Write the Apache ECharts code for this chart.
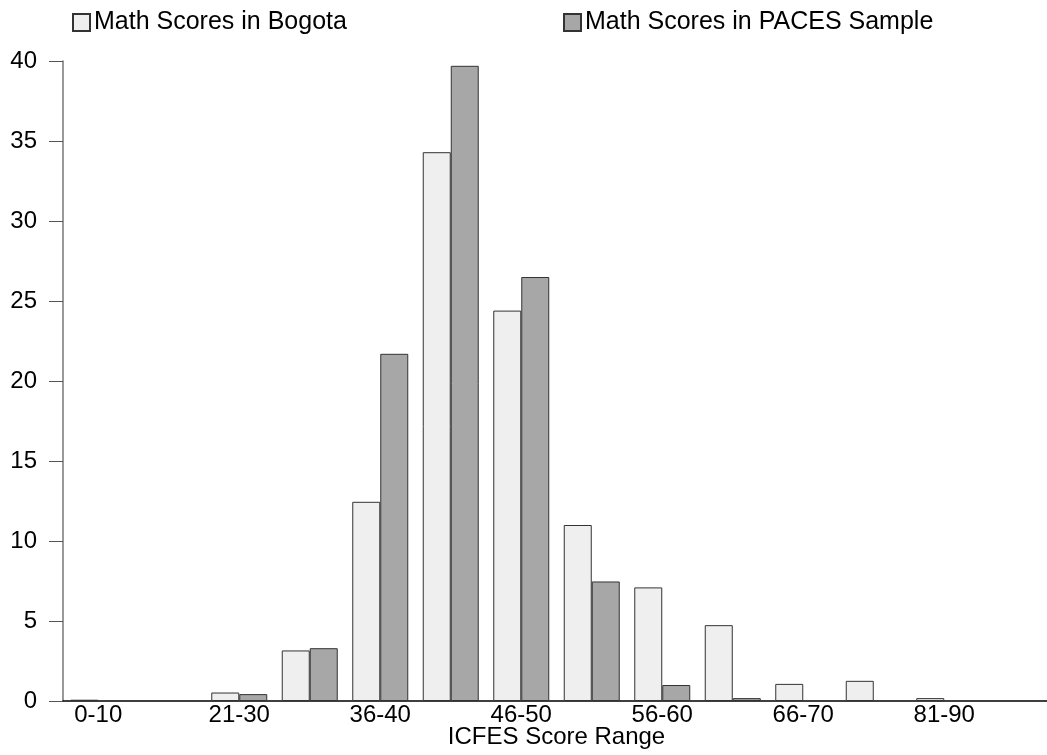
<!DOCTYPE html>
<html><head><meta charset="utf-8">
<script src="https://cdn.jsdelivr.net/npm/echarts@6/dist/echarts.min.js"></script>
<style>html,body{margin:0;padding:0;background:#fff}#c{width:1047px;height:755px}</style>
</head><body><div id="c"></div>
<script>
const categories = ['0-10','11-20','21-30','31-35','36-40','41-45','46-50','51-55','56-60','61-65','66-70','71-80','81-90','91-100'];
const bogota = [0.08, 0, 0.53, 3.16, 12.45, 34.3, 24.4, 11.0, 7.1, 4.74, 1.07, 1.26, 0.18, 0];
const paces  = [0, 0, 0.43, 3.3, 21.7, 39.7, 26.5, 7.47, 1.0, 0.18, 0, 0, 0, 0];
const yTicks = { min: 0, max: 40, interval: 5 };
const seriesNames = ['Math Scores in Bogota', 'Math Scores in PACES Sample'];

const font = "Arial, 'Liberation Sans', sans-serif";
const chart = echarts.init(document.getElementById('c'), null, {renderer: 'canvas'});
const nz = a => a.map(v => v === 0 ? null : v);
const legendCommon = { top: 10, padding: 0, itemWidth: 17, itemHeight: 17, itemGap: 5, icon: 'rect',
  textStyle: { fontSize: 25, color: '#000', fontFamily: font, padding: [0, 0, 0, -1] } };
chart.setOption({
  animation: false,
  backgroundColor: '#ffffff',
  textStyle: { fontFamily: font },
  legend: [
    Object.assign({ data: [seriesNames[0]], left: 72 }, legendCommon),
    Object.assign({ data: [seriesNames[1]], left: 563 }, legendCommon)
  ],
  grid: { left: 63, top: 61, bottom: 54, width: 987, containLabel: false, outerBoundsMode: 'none' },
  xAxis: {
    type: 'category', data: categories,
    name: 'ICFES Score Range', nameLocation: 'middle', nameGap: 24, nameMoveOverlap: false,
    nameTextStyle: { fontSize: 24, color: '#000', fontFamily: font, verticalAlign: 'top' },
    axisLine: { show: true, lineStyle: { color: '#000', width: 1.5 } },
    axisTick: { show: false },
    axisLabel: { interval: 1, fontSize: 24, color: '#000', margin: 2, fontFamily: font },
    splitLine: { show: false }
  },
  yAxis: {
    type: 'value', min: yTicks.min, max: yTicks.max, interval: yTicks.interval,
    axisLine: { show: true, lineStyle: { color: '#777', width: 1.5 } },
    axisTick: { show: true, length: 14, lineStyle: { color: '#555', width: 1 } },
    axisLabel: { fontSize: 24, color: '#000', margin: 26, fontFamily: font },
    splitLine: { show: false }
  },
  series: [
    { name: seriesNames[0], type: 'bar', data: nz(bogota), barWidth: 28, barGap: '0%',
      itemStyle: { color: '#efefef', borderColor: '#333', borderWidth: 1 } },
    { name: seriesNames[1], type: 'bar', data: nz(paces), barWidth: 28, barGap: '0%',
      itemStyle: { color: '#a7a7a7', borderColor: '#333', borderWidth: 1 } }
  ]
});
</script></body></html>
